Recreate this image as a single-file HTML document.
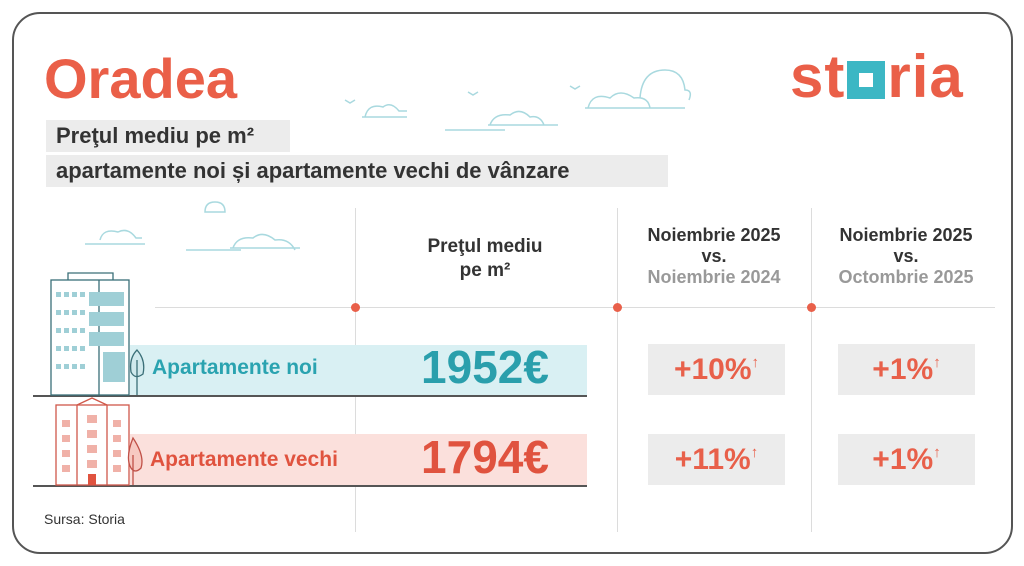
<!DOCTYPE html>
<html><head><meta charset="utf-8"><style>
body{margin:0;width:1024px;height:566px;background:#fff;font-family:"Liberation Sans",sans-serif;position:relative;overflow:hidden}
.a{position:absolute}
.frame{left:12px;top:12px;width:997px;height:538px;border:2px solid #555;border-radius:28px}
.sub{background:#ececec;color:#333;font-weight:bold;font-size:22px;line-height:32px;padding:0 10px;box-sizing:border-box}
.vl{width:1px;background:#dcdcdc;top:208px;height:324px}
.dot{width:9px;height:9px;border-radius:50%;background:#e9604a;top:303px}
.hd{font-weight:bold;font-size:18px;color:#333;text-align:center;line-height:21px}
.pb{background:#ececec;width:137px;height:51px;color:#e8604a;font-weight:bold;font-size:30px;text-align:center;line-height:51px}
.pb span{font-size:15px;vertical-align:top;line-height:38px}
</style></head><body>
<div class="a frame"></div>
<div class="a" style="left:44px;top:46px;font-size:56px;font-weight:bold;color:#ea5f48">Oradea</div>
<div class="a" style="left:790px;top:42px;font-size:60px;font-weight:bold;color:#ea5f48;letter-spacing:1px">st<span style="display:inline-block;width:38px;height:38px;background:#3cb7c4;vertical-align:-2px;position:relative;margin:0 2px"><span style="position:absolute;left:12px;top:12px;width:14px;height:14px;background:#fff"></span></span>ria</div>
<div class="a sub" style="left:46px;top:120px;width:244px">Preţul mediu pe m²</div>
<div class="a sub" style="left:46px;top:155px;width:622px">apartamente noi și apartamente vechi de vânzare</div>
<svg class="a" style="left:0;top:0" width="1024" height="566" fill="none" stroke="#a9d9df" stroke-width="1.5">
<path d="M365 117 q3-14 18-10 q8-6 16 4 h8 M362 117h45 M445 130h60 M490 125q4-12 20-10 q10-8 20 2 q10-2 14 8 M488 125h70 M588 108q4-16 22-10 q10-10 24 0 q14-2 16 10 M585 108h100 M640 98q2-28 25-28 q18 0 20 20 q8 0 4 10 M345 100l5 3 5-3 M468 92l5 3 5-3 M570 86l5 3 5-3"/>
<path d="M100 240q3-12 18-8 q10-5 18 6 h6 M85 244h60 M186 250h55 M233 248q4-12 20-10 q10-8 22 2 q14-2 20 10 M230 248h70 M205 212q0-10 10-10 q10 0 10 10z"/>
</svg>
<div class="a vl" style="left:355px"></div><div class="a vl" style="left:617px"></div><div class="a vl" style="left:811px"></div>
<div class="a" style="left:155px;top:307px;width:840px;height:1px;background:#dcdcdc"></div>
<div class="a dot" style="left:351px"></div><div class="a dot" style="left:613px"></div><div class="a dot" style="left:807px"></div>
<div class="a hd" style="left:385px;top:235px;width:200px;font-size:19px;line-height:24px">Preţul mediu<br>pe m²</div>
<div class="a hd" style="left:614px;top:225px;width:200px">Noiembrie 2025<br>vs.<br><span style="color:#999">Noiembrie 2024</span></div>
<div class="a hd" style="left:806px;top:225px;width:200px">Noiembrie 2025<br>vs.<br><span style="color:#999">Octombrie 2025</span></div>
<div class="a" style="left:130px;top:345px;width:457px;height:50px;background:#d9f0f3"></div>
<div class="a" style="left:130px;top:434px;width:457px;height:51px;background:#fbe0dc"></div>
<div class="a" style="left:33px;top:395px;width:554px;height:2px;background:#555"></div>
<div class="a" style="left:33px;top:485px;width:554px;height:2px;background:#555"></div>
<div class="a" style="left:152px;top:356px;font-size:21px;font-weight:bold;color:#2aa3b0">Apartamente noi</div>
<div class="a" style="left:150px;top:448px;font-size:21px;font-weight:bold;color:#e0533f">Apartamente vechi</div>
<div class="a" style="left:385px;top:340px;width:200px;text-align:center;font-size:46px;font-weight:bold;color:#2a9fac">1952€</div>
<div class="a" style="left:385px;top:430px;width:200px;text-align:center;font-size:46px;font-weight:bold;color:#e0533f">1794€</div>
<div class="a pb" style="left:648px;top:344px">+10%<span>↑</span></div>
<div class="a pb" style="left:838px;top:344px">+1%<span>↑</span></div>
<div class="a pb" style="left:648px;top:434px">+11%<span>↑</span></div>
<div class="a pb" style="left:838px;top:434px">+1%<span>↑</span></div>
<svg class="a" style="left:0;top:270px" width="150" height="220" stroke-width="1.3" fill="none">
<g stroke="#3a6f78"><rect x="51" y="10" width="78" height="115" fill="#fff"/><path d="M68 10v-7h45v7 M99 10v115"/>
<g fill="#9fcfd6" stroke="none">
<rect x="56" y="22" width="5" height="5"/><rect x="64" y="22" width="5" height="5"/><rect x="72" y="22" width="5" height="5"/><rect x="80" y="22" width="5" height="5"/>
<rect x="56" y="40" width="5" height="5"/><rect x="64" y="40" width="5" height="5"/><rect x="72" y="40" width="5" height="5"/><rect x="80" y="40" width="5" height="5"/>
<rect x="56" y="58" width="5" height="5"/><rect x="64" y="58" width="5" height="5"/><rect x="72" y="58" width="5" height="5"/><rect x="80" y="58" width="5" height="5"/>
<rect x="56" y="76" width="5" height="5"/><rect x="64" y="76" width="5" height="5"/><rect x="72" y="76" width="5" height="5"/><rect x="80" y="76" width="5" height="5"/>
<rect x="56" y="94" width="5" height="5"/><rect x="64" y="94" width="5" height="5"/><rect x="72" y="94" width="5" height="5"/><rect x="80" y="94" width="5" height="5"/>
<rect x="89" y="22" width="35" height="14"/><rect x="89" y="42" width="35" height="14"/><rect x="89" y="62" width="35" height="14"/><rect x="103" y="82" width="22" height="30"/></g></g>
<g stroke="#d0584a"><rect x="56" y="135" width="73" height="80" fill="#fff"/><path d="M77 135v80 M107 135v80 M77 135l15-7 15 7"/>
<g fill="#f0b1a8" stroke="none"><rect x="62" y="150" width="8" height="7"/><rect x="62" y="165" width="8" height="7"/><rect x="62" y="180" width="8" height="7"/><rect x="62" y="195" width="8" height="7"/>
<rect x="113" y="150" width="8" height="7"/><rect x="113" y="165" width="8" height="7"/><rect x="113" y="180" width="8" height="7"/><rect x="113" y="195" width="8" height="7"/>
<rect x="87" y="145" width="10" height="8"/><rect x="87" y="160" width="10" height="8"/><rect x="87" y="175" width="10" height="8"/><rect x="87" y="190" width="10" height="8"/><rect x="88" y="204" width="8" height="11" fill="#e0533f"/></g></g>
<path d="M137 80q-8 8-6 22 q4 8 12 2 q3-14-6-24z M137 90v35" stroke="#3a6f78" fill="#cfe9ed"/>
<path d="M133 168q-8 20-2 30 q4 6 10 0 q4-12-8-30z M133 185v30" stroke="#c05047" fill="#f7c9c2"/>
</svg>
<div class="a" style="left:44px;top:511px;font-size:14px;color:#333">Sursa: Storia</div>
</body></html>
